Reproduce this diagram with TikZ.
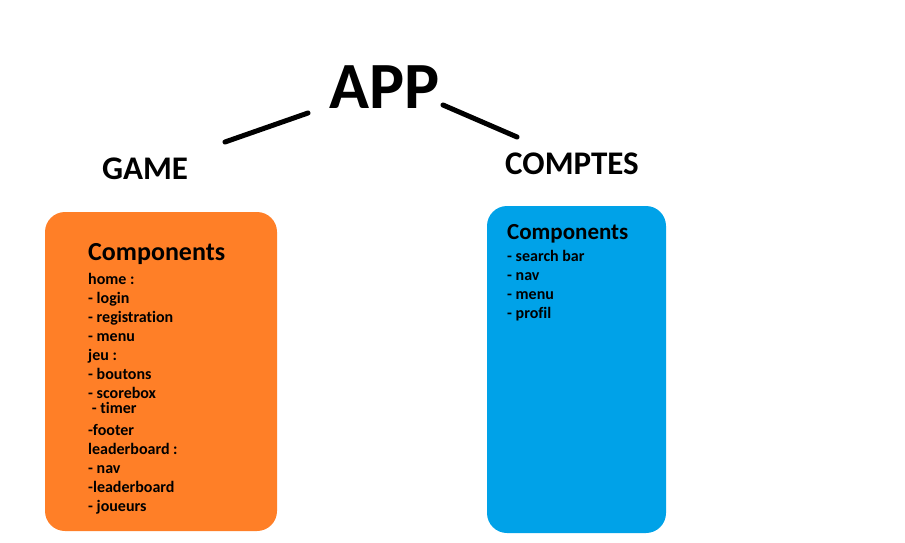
\documentclass[tikz,border=0pt]{standalone}
\usepackage{fontspec}
\setmainfont{Carlito}[Ligatures=NoCommon]
\usetikzlibrary{positioning}
\definecolor{paintorange}{HTML}{FF7F27}
\definecolor{paintblue}{HTML}{00A2E8}
\tikzset{
  card/.style = {rounded corners=20pt, draw=none},
  heading/.style = {font=\fontsize{33}{36}\selectfont\bfseries, anchor=base, inner sep=0pt},
  cardtitle/.style = {anchor=base west, inner sep=0pt, font=\bfseries},
  cardlist/.style = {anchor=north west, inner sep=0pt, align=left, font=\fontsize{16}{19}\selectfont\bfseries},
  branch/.style = {line width=5pt, line cap=round}
}
\begin{document}
\begin{tikzpicture}[x=1pt, y=-1pt]
\useasboundingbox (0,0) rectangle (905,543);

\node (app) [heading, font=\fontsize{66}{70}\selectfont\bfseries] at (385,108) {APP};
\node (game) [heading] at (145,179) {GAME};
\node (comptes) [heading] at (572,174) {COMPTES};

% boxes
\fill[paintorange, card] (45,212) rectangle (277,531);
\fill[paintblue, card] (487,206) rectangle (666,533);

\node (gametitle) [cardtitle, font=\fontsize{26}{30}\selectfont\bfseries] at (88,260) {Components};
\node (gamelist) [cardlist] at (88,273) {home :\\- login\\- registration\\- menu\\jeu :\\- boutons\\- scorebox\\[-4pt]\ - timer\\[3pt]-footer\\leaderboard :\\- nav\\-leaderboard\\- joueurs};

\node (comptestitle) [cardtitle, font=\fontsize{23}{27}\selectfont\bfseries] at (507,239) {Components};
\node (compteslist) [cardlist] at (507,250) {- search bar\\- nav\\- menu\\- profil};

\coordinate (appleft) at (308,113);
\coordinate (appright) at (443,105);
\coordinate (gametop) at (225,142);
\coordinate (comptestop) at (517,137);
\draw [branch] (gametop) -- (appleft);
\draw [branch] (appright) -- (comptestop);

\end{tikzpicture}
\end{document}
